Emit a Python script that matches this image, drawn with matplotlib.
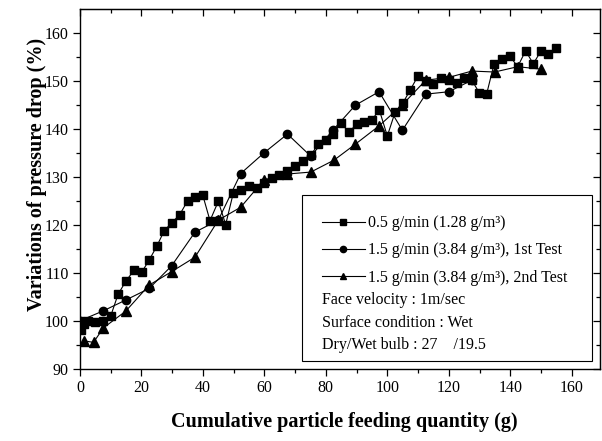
import matplotlib
matplotlib.use("Agg")
import matplotlib.pyplot as plt
from matplotlib.patches import Rectangle
from matplotlib.ticker import MultipleLocator

plt.rcParams['font.family'] = ['Liberation Serif', 'DejaVu Serif']

# 0.5 g/min (1.28 g/m3)
sq_x = [0, 0.3, 1.4, 2.7, 4.9, 7.4, 10, 12.4, 15, 17.6, 20.1, 22.5, 25, 27.4, 29.9,
        32.4, 35, 37.4, 39.9, 42.3, 45, 47.4, 49.9, 52.3, 54.9, 57.5, 60, 62.4,
        64.9, 67.5, 70, 72.6, 75.1, 77.5, 80, 82.4, 84.9, 87.4, 90, 92.5, 94.9,
        97.4, 100, 102.5, 105, 107.4, 109.9, 112.5, 115, 117.5, 120.1, 122.6,
        125.1, 127.5, 129.9, 132.3, 134.7, 137.4, 139.9, 142.4, 145, 147.5, 150,
        152.4, 154.9]
sq_y = [100.1, 98.2, 99.4, 100.1, 99.8, 100.1, 101.1, 105.6, 108.4, 110.6, 110.2,
        112.7, 115.6, 118.8, 120.5, 122.1, 125.0, 125.9, 126.3, 120.9, 124.9,
        120.1, 126.7, 127.3, 128.2, 127.6, 128.7, 129.8, 130.3, 131.3, 132.3,
        133.4, 134.5, 136.8, 137.7, 139.0, 141.3, 139.3, 140.9, 141.4, 141.8,
        143.9, 138.5, 143.4, 145.3, 148.0, 150.9, 150.0, 149.3, 150.5, 150.1,
        149.6, 150.5, 150.1, 147.5, 147.2, 153.4, 154.5, 155.1, 152.9, 156.2,
        153.5, 156.2, 155.5, 156.7]

# 1.5 g/min (3.84 g/m3), 1st test
ci_x = [0, 7.4, 14.9, 22.5, 29.8, 37.4, 45, 52.3, 59.9, 67.5, 75.1, 82.4, 89.6,
        97.3, 104.9, 112.5, 120.0, 127.5]
ci_y = [100.1, 102.1, 104.4, 106.8, 111.5, 118.5, 121.0, 130.7, 135.0, 138.9,
        134.3, 139.8, 144.9, 147.7, 139.7, 147.2, 147.7, 150.1]

# 1.5 g/min (3.84 g/m3), 2nd test
tr_x = [1.4, 4.4, 7.6, 14.9, 22.5, 29.8, 37.4, 45, 52.3, 59.9, 67.5, 75.1, 82.7,
        89.6, 97.3, 104.9, 112.5, 120.1, 127.5, 134.9, 142.4, 150]
tr_y = [95.9, 95.6, 98.6, 102.1, 107.5, 110.3, 113.3, 121.0, 123.7, 129.4, 130.6,
        131.0, 133.5, 136.8, 140.6, 145.0, 150.1, 150.7, 152.0, 151.8, 152.9, 152.4]

labels = ["0.5 g/min (1.28 g/m³)",
          "1.5 g/min (3.84 g/m³), 1st Test",
          "1.5 g/min (3.84 g/m³), 2nd Test"]
notes = ["Face velocity : 1m/sec",
         "Surface condition : Wet",
         "Dry/Wet bulb : 27    /19.5"]

fig = plt.figure(figsize=(6.02, 4.41), dpi=100)
ax = fig.add_axes([80 / 602, 71.7 / 441, 520 / 602, 360.3 / 441])

style = dict(color='black', linewidth=0.8)
l1, = ax.plot(sq_x, sq_y, marker='s', markersize=6, **style)
l2, = ax.plot(ci_x, ci_y, marker='o', markersize=6, **style)
l3, = ax.plot(tr_x, tr_y, marker='^', markersize=6.5, **style)

ax.set_xlim(0, 169.2)
ax.set_ylim(90, 164.9)
ax.xaxis.set_major_locator(MultipleLocator(20))
ax.xaxis.set_minor_locator(MultipleLocator(10))
ax.yaxis.set_major_locator(MultipleLocator(10))
ax.yaxis.set_minor_locator(MultipleLocator(5))
ax.tick_params(which='both', direction='out', labelsize=11.5, width=0.9, pad=3)
ax.tick_params(which='major', length=5)
ax.tick_params(which='minor', length=3)
for s in ax.spines.values():
    s.set_linewidth(1.0)

top = ax.secondary_xaxis('top')
top.xaxis.set_major_locator(MultipleLocator(20))
top.xaxis.set_minor_locator(MultipleLocator(10))
top.tick_params(which='both', direction='in', labeltop=False, width=0.9)
top.tick_params(which='major', length=5)
top.tick_params(which='minor', length=3)
right = ax.secondary_yaxis('right')
right.yaxis.set_major_locator(MultipleLocator(10))
right.yaxis.set_minor_locator(MultipleLocator(5))
right.tick_params(which='both', direction='in', labelright=False, width=0.9)
right.tick_params(which='major', length=5)
right.tick_params(which='minor', length=3)

ax.set_xlabel("Cumulative particle feeding quantity (g)", fontsize=14.5, fontweight='bold')
ax.set_ylabel("Variations of pressure drop (%)", fontsize=14.5, fontweight='bold')
ax.xaxis.set_label_coords(0.509, -0.146)
ax.xaxis.label.set_verticalalignment('center')
ax.yaxis.set_label_coords(-0.083, 0.541)
ax.yaxis.label.set_verticalalignment('center')

# legend box
ax.add_patch(Rectangle((0.427, 0.023), 0.558, 0.461, transform=ax.transAxes,
                       fill=False, edgecolor='black', linewidth=0.8, zorder=5))
ax.legend([l1, l2, l3], labels, frameon=False, loc='upper left',
          bbox_to_anchor=(0.465, 0.428), borderpad=0, borderaxespad=0,
          fontsize=11.5, handlelength=2.7, handletextpad=0.2, labelspacing=0.71,
          markerscale=0.75)
for txt, yy in zip(notes, [0.192, 0.129, 0.067]):
    ax.text(0.465, yy, txt, transform=ax.transAxes, fontsize=11.5, va='center', ha='left')

fig.savefig("out.png", dpi=100)
